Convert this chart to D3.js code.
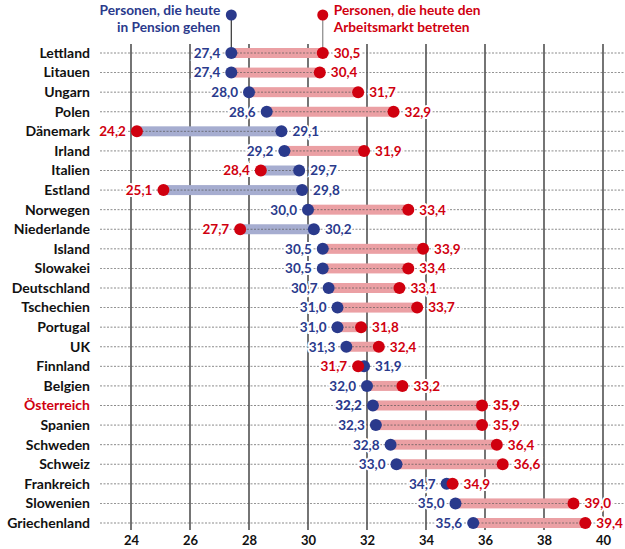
<!DOCTYPE html>
<html>
<head>
<meta charset="utf-8">
<script src="https://cdn.jsdelivr.net/npm/d3@7"></script>
<style>
  html, body { margin: 0; padding: 0; background: #fff; }
  svg { display: block; }
  text { font-family: Lato, "Open Sans", sans-serif; }
</style>
</head>
<body>
<svg id="chart" width="625" height="549"></svg>
<script>
// Average age: people retiring today vs. people entering the labour market today
const countries = ["Lettland","Litauen","Ungarn","Polen","Dänemark","Irland","Italien","Estland",
  "Norwegen","Niederlande","Island","Slowakei","Deutschland","Tschechien","Portugal","UK",
  "Finnland","Belgien","Österreich","Spanien","Schweden","Schweiz","Frankreich","Slowenien","Griechenland"];
const retiring = [27.4,27.4,28.0,28.6,29.1,29.2,29.7,29.8,30.0,30.2,30.5,30.5,30.7,31.0,31.0,31.3,
  31.9,32.0,32.2,32.3,32.8,33.0,34.7,35.0,35.6];
const entering = [30.5,30.4,31.7,32.9,24.2,31.9,28.4,25.1,33.4,27.7,33.9,33.4,33.1,33.7,31.8,32.4,
  31.7,33.2,35.9,35.9,36.4,36.6,34.9,39.0,39.4];
const xTicks = [24,26,28,30,32,34,36,38,40];
const highlight = "Österreich";
const legendRetiring = ["Personen, die heute", "in Pension gehen"];
const legendEntering = ["Personen, die heute den", "Arbeitsmarkt betreten"];

const BLUE = "#2a3a8c", RED = "#d0000f";
const BAR_RED = "#eba0a4", BAR_BLUE = "#a6add0";

const rows = countries.map((c, i) => ({ country: c, ret: retiring[i], ent: entering[i] }));
const fmt = v => d3.format(".1f")(v).replace(".", ",");

const svg = d3.select("#chart");
const x = d3.scaleLinear().domain([24, 40]).range([131, 603]);
const y = d3.scalePoint().domain(countries).range([53, 523]);
const gridTop = 44, gridBottom = 530;

// vertical grid lines
svg.append("g").selectAll("line").data(xTicks).join("line")
  .attr("x1", d => x(d)).attr("x2", d => x(d))
  .attr("y1", gridTop).attr("y2", gridBottom)
  .attr("stroke", "#3a3a3a").attr("stroke-width", 1.4);

// x axis labels
const axis = svg.append("g").attr("transform", `translate(0,${gridBottom})`)
  .call(d3.axisBottom(x).tickValues(xTicks).tickSize(0).tickPadding(6).tickFormat(d3.format("d")));
axis.select(".domain").remove();
axis.selectAll("text").attr("font-family", "Lato, sans-serif").attr("font-size", 13)
  .attr("font-weight", 700).attr("fill", "#111").attr("dy", "0.68em");

// range bars
svg.append("g").selectAll("rect").data(rows).join("rect")
  .attr("x", d => x(Math.min(d.ret, d.ent)))
  .attr("width", d => Math.abs(x(d.ent) - x(d.ret)))
  .attr("y", d => y(d.country) - 5).attr("height", 10)
  .attr("fill", d => d.ent >= d.ret ? BAR_RED : BAR_BLUE);

// dotted row guides
svg.append("g").selectAll("line").data(rows).join("line")
  .attr("x1", 100).attr("x2", 625)
  .attr("y1", d => y(d.country)).attr("y2", d => y(d.country))
  .attr("stroke", "#555").attr("stroke-width", 0.8)
  .attr("stroke-dasharray", "2,1.5").attr("opacity", 0.85);

// country labels
svg.append("g").selectAll("text").data(rows).join("text")
  .attr("x", 90).attr("y", d => y(d.country)).attr("dy", "0.35em")
  .attr("text-anchor", "end").attr("font-size", 14).attr("font-weight", 700)
  .attr("fill", d => d.country === highlight ? RED : "#111")
  .text(d => d.country);

// legend
const lx1 = x(rows[0].ret), lx2 = x(rows[0].ent), ly = 15;
svg.append("line").attr("x1", lx1).attr("x2", lx1).attr("y1", ly).attr("y2", y(countries[0]))
  .attr("stroke", "#333").attr("stroke-width", 1.2);
svg.append("line").attr("x1", lx2).attr("x2", lx2).attr("y1", ly).attr("y2", y(countries[0]))
  .attr("stroke", "#888").attr("stroke-width", 1.2);
svg.append("circle").attr("cx", lx1).attr("cy", ly).attr("r", 5.5).attr("fill", BLUE);
svg.append("circle").attr("cx", lx2).attr("cy", ly).attr("r", 5.5).attr("fill", RED);
svg.append("text").attr("x", lx1 - 11).attr("y", ly).attr("dy", "0.35em")
  .attr("text-anchor", "end").attr("font-size", 13.7).attr("font-weight", 700).attr("fill", BLUE)
  .selectAll("tspan").data(legendRetiring).join("tspan")
  .attr("x", lx1 - 11).attr("dy", (d, i) => i ? "1.24em" : 0).text(d => d);
svg.append("text").attr("x", lx2 + 11).attr("y", ly).attr("dy", "0.35em")
  .attr("text-anchor", "start").attr("font-size", 13.7).attr("font-weight", 700).attr("fill", RED)
  .selectAll("tspan").data(legendEntering).join("tspan")
  .attr("x", lx2 + 11).attr("dy", (d, i) => i ? "1.24em" : 0).text(d => d);

// value labels: the lower value sits left of its dot, the higher one right
const labels = [];
rows.forEach(d => {
  const retLeft = d.ret <= d.ent;
  labels.push({ country: d.country, v: d.ret, color: BLUE, left: retLeft });
  labels.push({ country: d.country, v: d.ent, color: RED, left: !retLeft });
});
svg.append("g").selectAll("text").data(labels).join("text")
  .attr("x", d => x(d.v) + (d.left ? -11 : 11))
  .attr("y", d => y(d.country)).attr("dy", "0.36em")
  .attr("text-anchor", d => d.left ? "end" : "start")
  .attr("font-size", 13.5).attr("font-weight", d => d.country === highlight ? 900 : 700)
  .attr("fill", d => d.color)
  .attr("stroke", "#fff").attr("stroke-width", 4).attr("paint-order", "stroke")
  .text(d => fmt(d.v));

// dots: retiring first, entering on top
svg.append("g").selectAll("circle").data(rows).join("circle")
  .attr("cx", d => x(d.ret)).attr("cy", d => y(d.country)).attr("r", 6).attr("fill", BLUE);
svg.append("g").selectAll("circle").data(rows).join("circle")
  .attr("cx", d => x(d.ent)).attr("cy", d => y(d.country)).attr("r", 6).attr("fill", RED);
</script>
</body>
</html>
